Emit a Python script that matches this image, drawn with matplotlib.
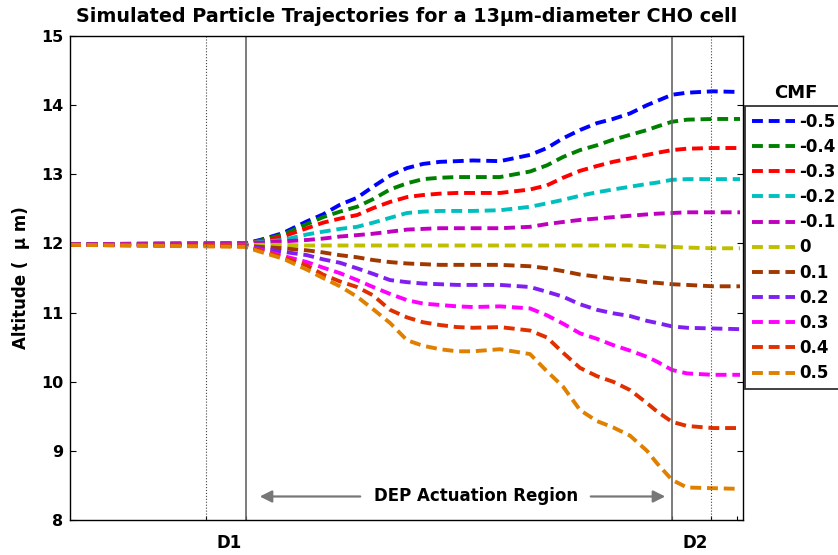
import matplotlib
matplotlib.use("Agg")
import matplotlib.pyplot as plt

plt.rcParams['font.family'] = ['DejaVu Sans']
plt.rcParams['font.weight'] = 'bold'

# x positions (arbitrary length units along the channel)
x = [0, 175, 190, 213, 237, 253, 270, 287, 303, 320, 337, 353, 370, 387, 403,
     430, 460, 477, 493, 510, 527, 543, 560, 577, 587, 602, 617, 643, 670]

cmf_labels = ['-0.5', '-0.4', '-0.3', '-0.2', '-0.1', '0', '0.1', '0.2', '0.3', '0.4', '0.5']

y_m05 = [11.99, 12.0, 12.05, 12.15, 12.32, 12.42, 12.56, 12.66, 12.82, 12.98, 13.09, 13.15, 13.18, 13.19, 13.2,
         13.19, 13.28, 13.38, 13.52, 13.64, 13.74, 13.80, 13.88, 14.0, 14.06, 14.15, 14.18, 14.2, 14.19]
y_m04 = [11.99, 12.0, 12.04, 12.13, 12.28, 12.38, 12.46, 12.53, 12.64, 12.78, 12.87, 12.93, 12.95, 12.96, 12.96,
         12.96, 13.04, 13.13, 13.25, 13.35, 13.42, 13.5, 13.57, 13.64, 13.69, 13.76, 13.79, 13.8, 13.8]
y_m03 = [11.99, 12.0, 12.03, 12.1, 12.22, 12.3, 12.36, 12.41, 12.51, 12.6, 12.67, 12.7, 12.72, 12.73, 12.73,
         12.73, 12.78, 12.84, 12.95, 13.05, 13.12, 13.18, 13.23, 13.28, 13.31, 13.35, 13.37, 13.38, 13.38]
y_m02 = [11.99, 12.0, 12.02, 12.05, 12.13, 12.17, 12.21, 12.24, 12.3, 12.37, 12.44, 12.46, 12.47, 12.47, 12.47,
         12.48, 12.53, 12.58, 12.63, 12.69, 12.74, 12.78, 12.82, 12.86, 12.88, 12.92, 12.93, 12.93, 12.93]
y_m01 = [11.99, 12.0, 12.01, 12.03, 12.05, 12.07, 12.1, 12.12, 12.14, 12.17, 12.2, 12.21, 12.22, 12.22, 12.22,
         12.22, 12.24, 12.28, 12.31, 12.34, 12.36, 12.38, 12.4, 12.42, 12.43, 12.44, 12.45, 12.45, 12.45]
y_0 = [11.98, 11.98, 11.98, 11.98, 11.97, 11.97, 11.97, 11.97, 11.97, 11.97, 11.97, 11.97, 11.97, 11.97, 11.97,
       11.97, 11.97, 11.97, 11.97, 11.97, 11.97, 11.97, 11.97, 11.96, 11.96, 11.95, 11.94, 11.93, 11.93]
y_p01 = [11.98, 11.97, 11.95, 11.93, 11.9, 11.87, 11.83, 11.8, 11.76, 11.73, 11.71, 11.7, 11.69, 11.69, 11.69,
         11.69, 11.67, 11.64, 11.6, 11.55, 11.52, 11.49, 11.47, 11.44, 11.43, 11.41, 11.4, 11.38, 11.38]
y_p02 = [11.98, 11.97, 11.93, 11.88, 11.83, 11.77, 11.72, 11.64, 11.56, 11.47, 11.44, 11.42, 11.41, 11.4, 11.4,
         11.4, 11.37, 11.3, 11.23, 11.12, 11.04, 10.99, 10.95, 10.88, 10.85, 10.8, 10.78, 10.77, 10.76]
y_p03 = [11.98, 11.96, 11.91, 11.82, 11.73, 11.65, 11.57, 11.47, 11.37, 11.27, 11.18, 11.13, 11.11, 11.09, 11.08,
         11.09, 11.06, 10.96, 10.84, 10.7, 10.62, 10.53, 10.45, 10.36, 10.29, 10.17, 10.12, 10.1, 10.1]
y_p04 = [11.98, 11.96, 11.9, 11.8, 11.68, 11.55, 11.45, 11.37, 11.25, 11.04, 10.93, 10.86, 10.82, 10.79, 10.78,
         10.79, 10.74, 10.64, 10.42, 10.2, 10.08, 10.0, 9.88, 9.69, 9.57, 9.42, 9.36, 9.33, 9.33]
y_p05 = [11.98, 11.95, 11.88, 11.78, 11.62, 11.5, 11.38, 11.23, 11.05, 10.85, 10.6, 10.52, 10.47, 10.44, 10.44,
         10.47, 10.4, 10.15, 9.93, 9.59, 9.43, 9.34, 9.22, 9.0, 8.82, 8.58, 8.47, 8.46, 8.45]

series = [y_m05, y_m04, y_m03, y_m02, y_m01, y_0, y_p01, y_p02, y_p03, y_p04, y_p05]
colors = ['#0000FF', '#008000', '#FF0000', '#00BFBF', '#BF00BF', '#BFBF00',
          '#A03800', '#8020F0', '#FF00FF', '#E03000', '#E08000']

# marker lines: D1 (dotted), start / end of actuation region (solid), D2 (dotted)
d1_x, start_x, end_x, d2_x = 136, 176, 602, 641

fig = plt.figure(figsize=(8.38, 5.55), dpi=100)
ax = fig.add_axes([70/838, 1-520/555, 673/838, 484/555])

handles = []
for ys, c, lab in zip(series, colors, cmf_labels):
    h, = ax.plot(x, ys, '--', color=c, lw=2.8, dashes=(2.8, 1.5), label=lab)
    handles.append(h)

ax.axvline(d1_x, color='#444444', lw=0.8, ls=':')
ax.axvline(start_x, color='#666666', lw=1.2)
ax.axvline(end_x, color='#666666', lw=1.2)
ax.axvline(d2_x, color='#444444', lw=0.8, ls=':')

ax.set_xlim(0, 673)
ax.set_ylim(8, 15)
ax.set_yticks(range(8, 16))
ax.set_xticks([d1_x, start_x, end_x, d2_x, 667])
ax.set_xticklabels([])
ax.tick_params(axis='y', direction='in', length=4, labelsize=11.5, right=True, width=0.8, pad=5)
ax.tick_params(axis='x', direction='in', length=3, width=0.8)
for lab in ax.get_yticklabels():
    lab.set_fontweight('bold')
for s in ax.spines.values():
    s.set_linewidth(1.0)

ax.set_ylabel('Altitude (  \u03bc m)', fontsize=12, fontweight='bold')
ax.yaxis.set_label_coords(-0.0594, 0.5)
ax.set_title('Simulated Particle Trajectories for a 13\u03bcm-diameter CHO cell',
             fontsize=13.8, fontweight='bold', pad=10)

# D1 / D2 labels
ax.text(159, -23/484, 'D1', transform=ax.get_xaxis_transform(), ha='center', va='center',
        fontsize=12, fontweight='bold')
ax.text(625, -23/484, 'D2', transform=ax.get_xaxis_transform(), ha='center', va='center',
        fontsize=12, fontweight='bold')

# DEP actuation region annotation
ya = 8.34
ax.text(406, ya, 'DEP Actuation Region', ha='center', va='center', fontsize=12, fontweight='bold')
ax.annotate('', xy=(187, ya), xytext=(293, ya),
            arrowprops=dict(arrowstyle='-|>', color='#777777', lw=1.6, mutation_scale=18))
ax.annotate('', xy=(598, ya), xytext=(518, ya),
            arrowprops=dict(arrowstyle='-|>', color='#777777', lw=1.6, mutation_scale=18))

leg = fig.legend(handles=handles, loc='upper left', bbox_to_anchor=(745/838, 1-106/555),
                 frameon=True, fancybox=False, fontsize=12, handlelength=2.6,
                 handletextpad=0.25, labelspacing=0.43, borderpad=0.4, borderaxespad=0)
leg.get_frame().set_edgecolor('black')
leg.get_frame().set_linewidth(1.3)
for t in leg.get_texts():
    t.set_fontweight('bold')
fig.text(796/838, 1-93/555, 'CMF', ha='center', va='center', fontsize=13, fontweight='bold')

fig.savefig('out.png', dpi=100)
